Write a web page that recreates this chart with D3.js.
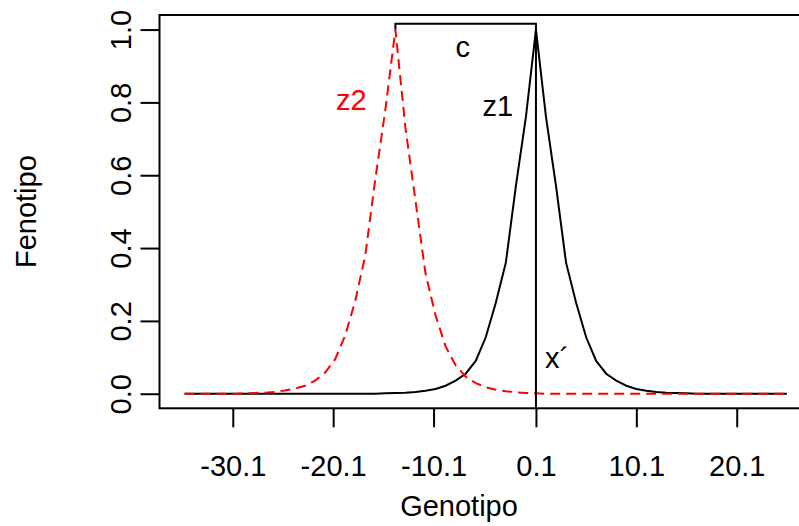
<!DOCTYPE html>
<html>
<head>
<meta charset="utf-8">
<script src="https://cdn.jsdelivr.net/npm/d3@7"></script>
<style>
  html, body { margin: 0; padding: 0; background: #fff; }
  svg { display: block; font-family: "Liberation Sans", Arial, sans-serif; }
</style>
</head>
<body>
<svg id="chart" width="799" height="526"></svg>
<script>
// Genotype grid (x) shared by both response curves
const genotipo = [
  -34.9, -33.9, -32.9, -31.9, -30.9, -29.9, -28.9, -27.9, -26.9, -25.9,
  -24.9, -23.9, -22.9, -21.9, -20.9, -19.9, -18.9, -17.9, -16.9, -15.9,
  -14.9, -13.9, -12.9, -11.9, -10.9, -9.9, -8.9, -7.9, -6.9, -5.9,
  -4.9, -3.9, -2.9, -1.9, -0.9, 0.1, 1.1, 2.1, 3.1, 4.1,
  5.1, 6.1, 7.1, 8.1, 9.1, 10.1, 11.1, 12.1, 13.1, 14.1,
  15.1, 16.1, 17.1, 18.1, 19.1, 20.1, 21.1, 22.1, 23.1, 24.1, 25.1
];

// Phenotype of z1 (peak at 0.1)
const z1 = [
  0, 0, 0, 0, 0, 0, 0, 0, 0, 0,
  0, 0, 0, 0, 0, 0, 0, 0, 0, 0,
  0.001, 0.002, 0.003, 0.005, 0.008, 0.013, 0.022, 0.036, 0.055, 0.09,
  0.155, 0.25, 0.36, 0.57, 0.76, 1.0, 0.76, 0.57, 0.36, 0.25,
  0.155, 0.09, 0.055, 0.036, 0.022, 0.013, 0.008, 0.005, 0.003, 0.002,
  0.001, 0, 0, 0, 0, 0, 0, 0, 0, 0, 0
];

// Phenotype of z2 (peak at -13.9)
const z2 = [
  0, 0, 0, 0, 0, 0,
  0.001, 0.002, 0.003, 0.005, 0.009, 0.014, 0.022, 0.036, 0.058, 0.095,
  0.16, 0.255, 0.38, 0.59, 0.78, 1.0, 0.73, 0.53, 0.33, 0.215,
  0.13, 0.078, 0.047, 0.029, 0.018, 0.011, 0.007, 0.004, 0.002, 0.001,
  0, 0, 0, 0, 0, 0, 0, 0, 0, 0,
  0, 0, 0, 0, 0, 0, 0, 0, 0, 0,
  0, 0, 0, 0, 0
];

const xTicks = [-30.1, -20.1, -10.1, 0.1, 10.1, 20.1];
const xTickLabels = ["-30.1", "-20.1", "-10.1", "0.1", "10.1", "20.1"];
const yTicks = [0, 0.2, 0.4, 0.6, 0.8, 1.0];
const yTickLabels = ["0.0", "0.2", "0.4", "0.6", "0.8", "1.0"];

// Distance between the two optima and the bracket height
const peakZ1 = 0.1;
const peakZ2 = -13.9;
const bracketLevel = 1.016;

// Text annotations: [label, x, y (baseline), colour]
const notes = [
  ["c", -7.2, 0.925, "#000000"],
  ["z1", -3.7, 0.762, "#000000"],
  ["z2", -18.3, 0.78, "#FF0000"],
  ["x\u00B4", 2.2, 0.07, "#000000"]
];

const svg = d3.select("#chart");
const plotLeft = 159.5, plotRight = 810, plotTop = 15, plotBottom = 408.3;

const x = d3.scaleLinear().domain([-37.4, 27.4]).range([plotLeft, plotRight]);
const y = d3.scaleLinear().domain([-0.04, 1.04]).range([plotBottom, plotTop]);

const fontSize = 29;
const fontFamily = "Liberation Sans, Arial, sans-serif";

// Plot frame
svg.append("rect")
  .attr("x", plotLeft).attr("y", plotTop)
  .attr("width", plotRight - plotLeft).attr("height", plotBottom - plotTop)
  .attr("fill", "none").attr("stroke", "#000").attr("stroke-width", 2);

// X axis
const gx = svg.append("g")
  .attr("transform", `translate(0,${plotBottom})`)
  .call(d3.axisBottom(x).tickValues(xTicks)
    .tickFormat((d, i) => xTickLabels[i]).tickSize(19).tickSizeOuter(0));
gx.select(".domain").remove();
gx.selectAll(".tick line").attr("stroke", "#000").attr("stroke-width", 2);
gx.selectAll(".tick text")
  .attr("fill", "#000").attr("font-size", fontSize)
  .attr("font-family", fontFamily)
  .attr("dy", null).attr("y", 68);

// Y axis
const gy = svg.append("g")
  .attr("transform", `translate(${plotLeft},0)`)
  .call(d3.axisLeft(y).tickValues(yTicks)
    .tickFormat((d, i) => yTickLabels[i]).tickSize(19).tickSizeOuter(0));
gy.select(".domain").remove();
gy.selectAll(".tick line").attr("stroke", "#000").attr("stroke-width", 2);
gy.selectAll(".tick text")
  .attr("fill", "#000").attr("font-size", fontSize)
  .attr("font-family", fontFamily)
  .attr("x", 0).attr("dy", null)
  .attr("y", -(plotLeft - 131))
  .attr("text-anchor", "middle")
  .attr("transform", "rotate(-90)");

// Axis titles
svg.append("text")
  .attr("x", 459).attr("y", 516)
  .attr("text-anchor", "middle")
  .attr("font-size", fontSize)
  .text("Genotipo");

svg.append("text")
  .attr("transform", `translate(36,${(plotTop + plotBottom) / 2}) rotate(-90)`)
  .attr("text-anchor", "middle")
  .attr("font-size", fontSize)
  .text("Fenotipo");

const line = d3.line()
  .x((d, i) => x(genotipo[i]))
  .y(d => y(d));

// z1: solid black
svg.append("path")
  .datum(z1)
  .attr("d", line)
  .attr("fill", "none").attr("stroke", "#000").attr("stroke-width", 2);

// z2: dashed red
svg.append("path")
  .datum(z2)
  .attr("d", line)
  .attr("fill", "none").attr("stroke", "#FF0000").attr("stroke-width", 2)
  .attr("stroke-dasharray", "10,6");

// Bracket between optima and the vertical reference at x'
svg.append("path")
  .attr("d", d3.line()([
    [x(peakZ2), y(1.0)],
    [x(peakZ2), y(bracketLevel)],
    [x(peakZ1), y(bracketLevel)],
    [x(peakZ1), y(-0.04)]
  ]))
  .attr("fill", "none").attr("stroke", "#000").attr("stroke-width", 2);

// Annotations
svg.selectAll("text.note")
  .data(notes)
  .join("text")
  .attr("class", "note")
  .attr("x", d => x(d[1]))
  .attr("y", d => y(d[2]))
  .attr("text-anchor", "middle")
  .attr("font-size", fontSize)
  .attr("fill", d => d[3])
  .text(d => d[0]);
</script>
</body>
</html>
